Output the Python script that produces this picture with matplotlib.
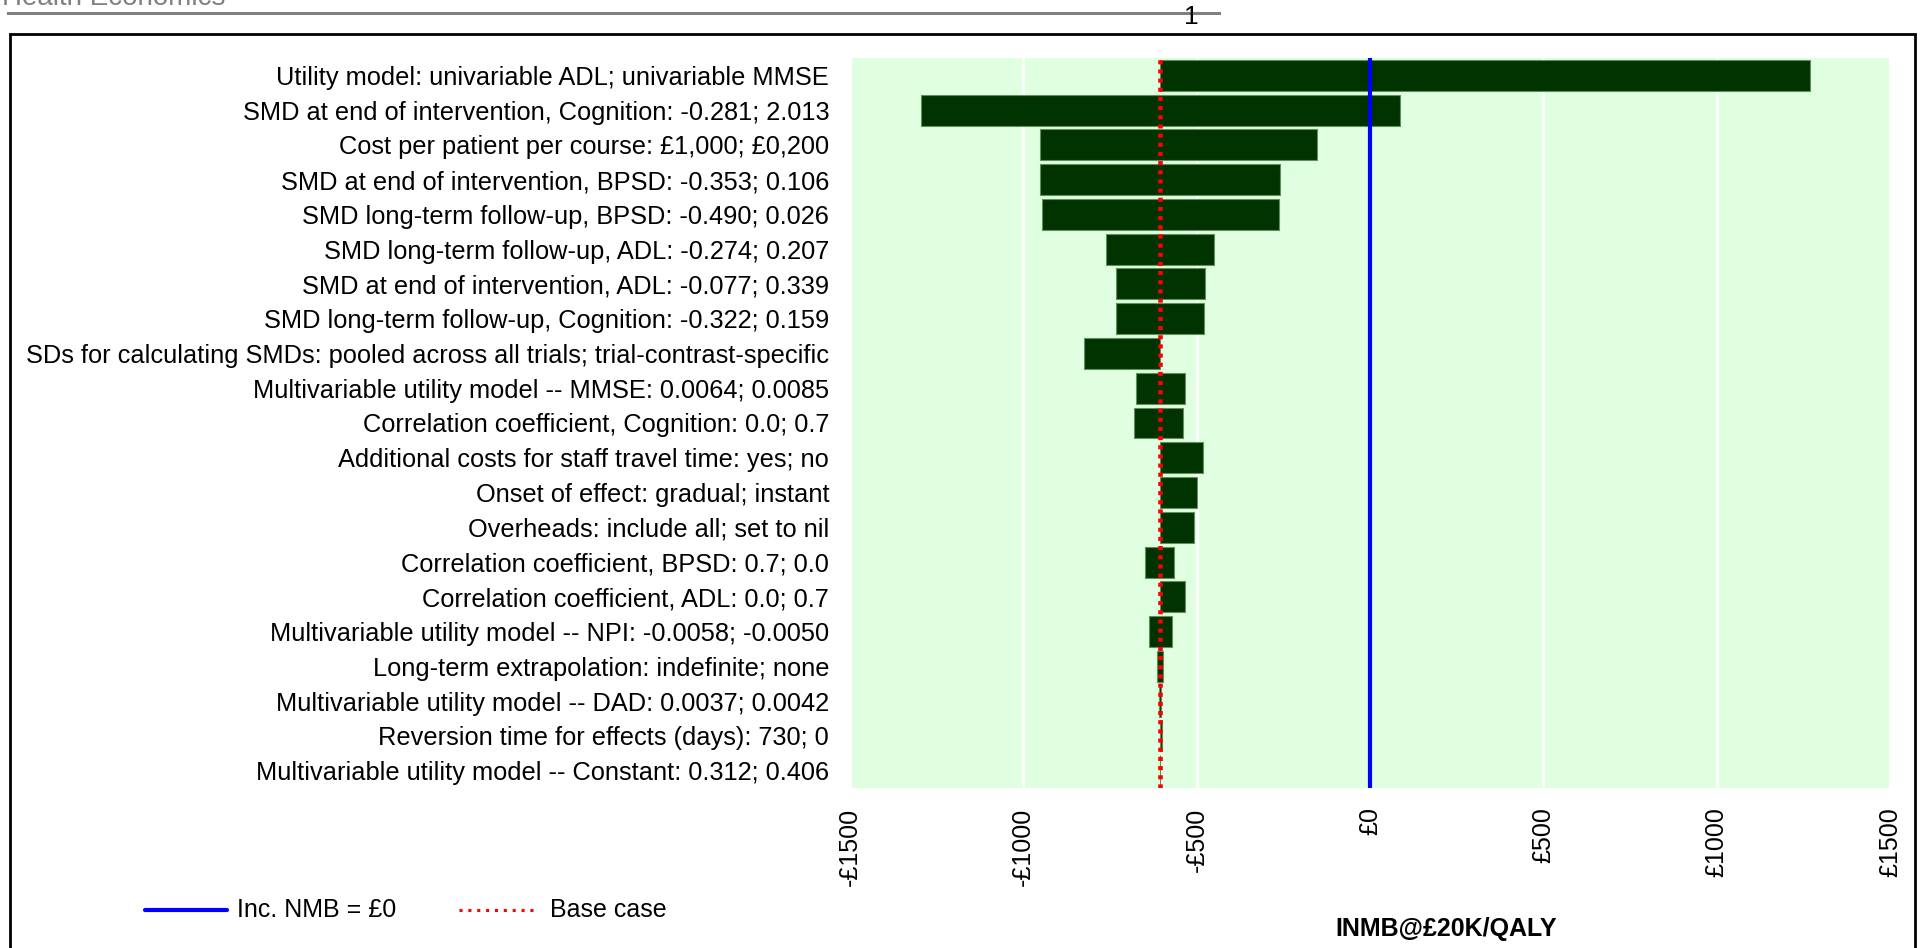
import matplotlib
matplotlib.use("Agg")
import matplotlib.pyplot as plt
from matplotlib.lines import Line2D
from matplotlib.patches import Rectangle
import numpy as np

plt.rcParams['font.family'] = ['Liberation Sans', 'DejaVu Sans']

labels = [
    "Utility model: univariable ADL; univariable MMSE",
    "SMD at end of intervention, Cognition: -0.281; 2.013",
    "Cost per patient per course: £1,000; £0,200",
    "SMD at end of intervention, BPSD: -0.353; 0.106",
    "SMD long-term follow-up, BPSD: -0.490; 0.026",
    "SMD long-term follow-up, ADL: -0.274; 0.207",
    "SMD at end of intervention, ADL: -0.077; 0.339",
    "SMD long-term follow-up, Cognition: -0.322; 0.159",
    "SDs for calculating SMDs: pooled across all trials; trial-contrast-specific",
    "Multivariable utility model -- MMSE: 0.0064; 0.0085",
    "Correlation coefficient, Cognition: 0.0; 0.7",
    "Additional costs for staff travel time: yes; no",
    "Onset of effect: gradual; instant",
    "Overheads: include all; set to nil",
    "Correlation coefficient, BPSD: 0.7; 0.0",
    "Correlation coefficient, ADL: 0.0; 0.7",
    "Multivariable utility model -- NPI: -0.0058; -0.0050",
    "Long-term extrapolation: indefinite; none",
    "Multivariable utility model -- DAD: 0.0037; 0.0042",
    "Reversion time for effects (days): 730; 0",
    "Multivariable utility model -- Constant: 0.312; 0.406",
]
low = [-606, -1296, -951, -951, -947, -762, -734, -733, -825, -675, -681,
       -606, -606, -606, -649, -606, -638, -614, -608, -607, -606]
high = [1268, 86, -154, -261, -263, -449, -477, -479, -606, -534, -540,
        -481, -498, -507, -566, -534, -571, -598, -603, -599, -606]
base_case = -606
zero_line = 0
xticks = [-1500, -1000, -500, 0, 500, 1000, 1500]
xticklabels = ["-£1500", "-£1000", "-£500", "£0", "£500", "£1000", "£1500"]

W, H = 1925, 948
fig = plt.figure(figsize=(W / 100, H / 100), dpi=100)

def fx(px):
    return px / W

def fy(py):
    return 1 - py / H

ax_l, ax_r, ax_t, ax_b = 850, 1890, 58, 788
ax = fig.add_axes([fx(ax_l), fy(ax_b), (ax_r - ax_l) / W, (ax_b - ax_t) / H])
ax.set_facecolor('#E0FFE0')

y = np.arange(len(labels))
lo = np.array(low, dtype=float)
hi = np.array(high, dtype=float)
ax.barh(y, hi - lo, left=lo, height=0.89, color='#003300',
        edgecolor='#5f8f5f', linewidth=0.8, zorder=2)

ax.axvline(zero_line, color='#0000FF', linewidth=3.0, zorder=3)
ax.axvline(base_case, color='#FF0000', linewidth=3.3, dashes=(0.9, 1.1),
           dash_capstyle='butt', zorder=4)

ax.set_xlim(-1500, 1500)
ax.set_ylim(len(labels) - 0.5, -0.5)
ax.set_xticks(xticks)
ax.set_xticklabels(xticklabels, rotation=90, fontsize=18)
ax.set_yticks(y)
ax.set_yticklabels(labels, fontsize=18.25)
ax.tick_params(axis='both', length=0)
ax.tick_params(axis='x', pad=14)
ax.tick_params(axis='y', pad=15)
ax.xaxis.grid(True, color='white', linewidth=2, zorder=1)
ax.yaxis.grid(False)
ax.set_axisbelow(True)
for s in ax.spines.values():
    s.set_visible(False)

# x-axis title
fig.text(fx(1446), fy(929), "INMB@£20K/QALY", fontsize=18, fontweight='bold',
         ha='center', va='center')

# legend (manual)
fig.add_artist(Line2D([fx(145), fx(227)], [fy(910), fy(910)], color='#0000FF',
                      linewidth=3.0, solid_capstyle='round'))
fig.text(fx(237), fy(910), "Inc. NMB = £0", fontsize=18, ha='left', va='center')
fig.add_artist(Line2D([fx(459), fx(535)], [fy(910), fy(910)], color='#FF0000',
                      linewidth=2.2, dashes=(1.0, 1.9), dash_capstyle='butt'))
fig.text(fx(550), fy(910), "Base case", fontsize=18, ha='left', va='center')

# page decorations
fig.add_artist(Rectangle((fx(10), fy(990)), (1915 - 10) / W, (990 - 34) / H,
                         fill=False, edgecolor='black', linewidth=2.0,
                         transform=fig.transFigure))
fig.add_artist(Line2D([fx(8), fx(1219)], [fy(13), fy(13)], color='#808080',
                      linewidth=2.2))
fig.text(fx(1191), fy(17), "1", fontsize=19, ha='center', va='center')
fig.text(fx(2), fy(5), "Health Economics", fontsize=20, color='#808080',
         ha='left', va='baseline')

fig.savefig("out.png", dpi=100)
